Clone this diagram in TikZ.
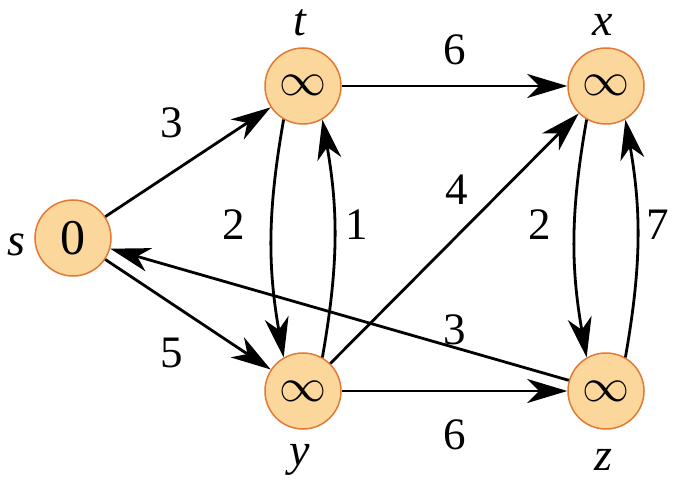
\documentclass[tikz,border=0pt]{standalone}
\usepackage{fontspec}
\setmainfont{Liberation Serif}
\usetikzlibrary{arrows.meta}
\definecolor{nodefill}{HTML}{FBD79C}
\definecolor{nodeline}{HTML}{E27A35}
\tikzset{
  vert/.style={circle,draw=nodeline,fill=nodefill,line width=1.5pt,minimum size=76pt,inner sep=0pt,font=\fontsize{50}{50}\selectfont},
  inf/.style={vert},
  vlabel/.style={font=\fontsize{46}{46}\selectfont\itshape},
  wlabel/.style={font=\fontsize{45}{45}\selectfont},
  edge/.style={line width=2.8pt,-{Stealth[length=40pt,width=24pt,inset=12pt]}}
}
\newcommand{\bigINF}{\makebox[0pt][c]{\smash{\raisebox{-10pt}{\scalebox{4.7}{\fontsize{10}{12}\selectfont$\infty$}}}}}
\begin{document}
\begin{tikzpicture}[x=1pt,y=-1pt]
\useasboundingbox (0,0) rectangle (699,481);
\node[vert] (s) at (73,238) {0};
\node[inf] (t) at (303,86) {\bigINF};
\node[inf] (x) at (606,86) {\bigINF};
\node[inf] (y) at (303,391) {\bigINF};
\node[inf] (z) at (606,391) {\bigINF};
\node[vlabel] (ls) at (16,245) {s};
\node[vlabel] (lt) at (300,23) {t};
\node[vlabel] (lx) at (603,25) {x};
\node[vlabel] (ly) at (300,460) {y};
\node[vlabel] (lz) at (603,460) {z};
\draw[edge] (s) -- (t);
\draw[edge] (s) -- (y);
\draw[edge] (t) -- (x);
\draw[edge] (y) -- (z);
\draw[edge] (y) -- (x);
\draw[edge] (z) -- (s);
\draw[edge] (t.240) to[bend right=10] (y.120);
\draw[edge] (y.60) to[bend right=10] (t.300);
\draw[edge] (x.240) to[bend right=10] (z.120);
\draw[edge] (z.60) to[bend right=10] (x.300);
\node[wlabel] (w1) at (172,123) {3};
\node[wlabel] (w2) at (455,50) {6};
\node[wlabel] (w3) at (234,225) {2};
\node[wlabel] (w4) at (357,225) {1};
\node[wlabel] (w5) at (457,190) {4};
\node[wlabel] (w6) at (540,225) {2};
\node[wlabel] (w7) at (658,225) {7};
\node[wlabel] (w8) at (172,353) {5};
\node[wlabel] (w9) at (455,330) {3};
\node[wlabel] (w10) at (455,435) {6};
\end{tikzpicture}
\end{document}
